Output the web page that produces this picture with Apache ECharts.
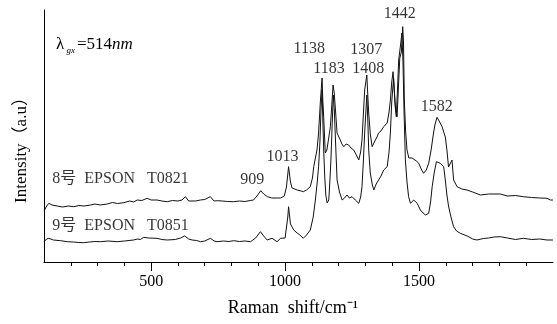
<!DOCTYPE html>
<html>
<head>
<meta charset="utf-8">
<script src="https://cdn.jsdelivr.net/npm/echarts@6/dist/echarts.min.js"></script>
<style>html,body{margin:0;padding:0;background:#fff}#c{width:557px;height:324px}</style>
</head>
<body>
<div id="c"></div>
<script>
// Sample 8 (upper trace)
const upperShift = [100,110,118,130,149,170,190,211,230,250,274,290,310,336,355,375,398,420,435,448,465,485,500,522,540,560,580,600,615,628,640,647,665,684,700,721,735,747,765,785,807,830,850,870,882,895,909,920,934,950,971,983,997,1005,1013,1020,1026,1045,1060,1068,1080,1094,1102,1107,1113,1119,1125,1132,1138,1141,1144,1150,1156,1163,1169,1175,1179,1183,1188,1194,1206,1212,1219,1228,1237,1246,1256,1266,1275,1282,1287,1297,1305,1309,1312,1318,1325,1337,1343,1349,1358,1368,1375,1381,1388,1393,1398,1403,1408,1412,1418,1423,1428,1434,1439,1442,1445,1450,1455,1462,1468,1474,1480,1490,1499,1508,1517,1527,1536,1545,1554,1560,1567,1575,1586,1598,1604,1610,1616,1623,1629,1642,1660,1679,1700,1729,1760,1803,1830,1860,1889,1920,1950,1978,1990,2000];
const upperInt = [51,56,58.7,57,56,55,56,55.3,56.5,56,57,58,57,58,59.5,58.5,59.3,61,60,62,61.5,63.7,62,62,61,60.3,61.5,61,62,65.3,61,62,61,62,62.5,65.3,61,61.3,61,60.5,60.3,61,60.5,61.5,62,66,71.3,68,65.3,64,64,64,66,75,95.3,80,74,72,71,70.3,72,75.3,84,95.3,104,112,129,162,184,160,145.3,109,112,110.3,135.3,160,177,170,152,129,122,118,115.3,118,117,114,112,107,102,110,122,172,187,165,149,128,115.3,122,125,129,131,135.3,134,139,150,162,180,190.3,170,152,145.3,175,203.7,210,235.3,220,162,130,112,104,102,104,103.7,101,98.7,93,88.7,92,98.7,112,129,138,144.7,141,135.3,125,112,95,96,102,82,75.3,73,72,70,67,68,68,66,66.5,65.3,64.5,64,63.7,62,62];
// Sample 9 (lower trace)
const lowerShift = [100,110,118,135,162,187,210,230,247,270,290,311,340,373,400,434,450,460,472,490,522,540,560,590,610,625,640,653,670,684,700,721,735,746,770,790,808,830,850,871,890,908,920,933,951,970,983,1000,1005,1010,1013,1020,1032,1045,1055,1068,1080,1094,1105,1113,1120,1125,1130,1134,1138,1141,1144,1148,1152,1157,1163,1167,1171,1176,1180,1184,1188,1194,1203,1213,1222,1231,1240,1250,1262,1275,1282,1287,1292,1297,1305,1309,1312,1318,1325,1331,1340,1349,1358,1368,1375,1381,1388,1393,1398,1405,1410,1415,1420,1424,1430,1436,1440,1444,1449,1455,1461,1468,1474,1480,1486,1493,1505,1515,1524,1536,1543,1549,1557,1565,1572,1579,1586,1592,1598,1604,1610,1616,1622,1629,1640,1654,1680,1700,1716,1740,1760,1780,1803,1830,1860,1890,1920,1950,1978,2000];
const lowerInt = [20.3,23,23.7,22,21.3,20.3,20,19.5,19.3,20,20.5,20.3,21,20.3,21,22,23,22.5,24.7,24,23.7,22.5,22,22.5,24,26,23,22,21.5,20.3,21,23.7,21,20.3,21,20.5,21.3,20.5,21,20.3,24,30.3,26,22,23.7,20.3,23.7,24,26,45,55.3,38,32,29,27,23.7,27,32,45,62,80,95.3,120,152,172,140,112,85,67,59,62,80,102,140,167,150,122,82,70,62,64,67,64,65.3,62,58.7,65,75.3,100,129,167,140,112,89,78,72,78,82,86,92,90,95.3,110,129,160,184,160,145.3,175,202,215,229,200,150,102,80,65.3,58.7,60,62,61,58.7,52,49,47,48.7,60,75.3,90,100.3,99,98.7,97,95.3,82,67,56,48.7,42,35.3,31,28.7,26,23,22,23.5,24,25,25.3,24,22.5,23.7,22.5,23,22,22];
// Peak annotations
const peakNames = ['1442','1138','1183','1307','1408','1582','1013','909'];
const peakShift = [1428,1090,1164,1303,1310,1566,990,877];
const peakInt = [248,213.7,193.7,212,193.7,155.3,105,82];
// Sample names
const sampleNames = ['8号\u2002EPSON\u2002 T0821','9号\u2002EPSON\u2002 T0851'];
const sampleShift = [131,131];
const sampleInt = [83.7,36];
const majorTicks = [500,1000,1500];

const FONT = '"Liberation Serif","Noto Sans CJK SC",serif';
const pair = (xs, ys) => xs.map((x, i) => [x, ys[i]]);

const chart = echarts.init(document.getElementById('c'));
chart.setOption({
  animation: false,
  backgroundColor: '#fff',
  grid: { left: 44, top: 10, right: 4, bottom: 62, containLabel: false, outerBoundsMode: 'none' },
  xAxis: {
    type: 'value', min: 100, max: 2000, interval: 100, position: 'bottom',
    axisLine: { show: true, lineStyle: { color: '#000', width: 1 } },
    axisTick: { show: true, length: 4, lineStyle: { color: '#000' } },
    axisLabel: {
      show: true, color: '#000', fontFamily: FONT, fontSize: 16, margin: 12,
      showMinLabel: false, showMaxLabel: false, hideOverlap: false,
      formatter: v => (v % 500 === 0 ? String(v) : '')
    },
    splitLine: { show: false }
  },
  yAxis: {
    type: 'value', min: 0, max: 252,
    axisLine: { show: true, lineStyle: { color: '#000', width: 1 } },
    axisTick: { show: false }, axisLabel: { show: false }, splitLine: { show: false }
  },
  graphic: [{
    type: 'text', x: 22, y: 146, rotation: Math.PI / 2,
    style: { text: 'Intensity（a.u）', fill: '#000', font: '17px ' + FONT, textAlign: 'center', textVerticalAlign: 'middle' }
  }, {
    type: 'text', x: 293, y: 308,
    style: { text: 'Raman  shift/cm\u207B\u00B9', fill: '#000', font: '18px ' + FONT, textAlign: 'center', textVerticalAlign: 'middle' }
  }, {
    type: 'text', x: 56, y: 45,
    style: {
      text: '{a|λ}{s| gx}{a|=514}{i|nm}',
      textVerticalAlign: 'middle',
      rich: {
        a: { fontFamily: FONT, fontSize: 17, fill: '#000' },
        s: { fontFamily: FONT, fontSize: 9, fill: '#000', fontStyle: 'italic', padding: [12, 2, 0, 0] },
        i: { fontFamily: FONT, fontSize: 17, fill: '#000', fontStyle: 'italic' }
      }
    }
  }],
  series: [{
    type: 'line', name: '8', data: pair(upperShift, upperInt), symbol: 'none', silent: true,
    lineStyle: { color: '#111', width: 1 }
  }, {
    type: 'line', name: '9', data: pair(lowerShift, lowerInt), symbol: 'none', silent: true,
    lineStyle: { color: '#111', width: 1 }
  }, {
    type: 'scatter', silent: true, symbolSize: 0,
    data: peakNames.map((n, i) => ({ value: [peakShift[i], peakInt[i]], name: n })),
    label: { show: true, position: 'inside', formatter: '{b}', color: '#000', fontFamily: FONT, fontSize: 16 }
  }, {
    type: 'scatter', silent: true, symbolSize: 0,
    data: sampleNames.map((n, i) => ({ value: [sampleShift[i], sampleInt[i]], name: n })),
    label: { show: true, position: 'right', distance: 0, formatter: '{b}', color: '#000', fontFamily: FONT, fontSize: 16 }
  }, {
    type: 'custom', silent: true, clip: false,
    data: majorTicks.map(v => [v, 0]),
    renderItem: (params, api) => {
      const p = api.coord([api.value(0), 0]);
      const x = Math.round(p[0]) + 0.5;
      return { type: 'line', shape: { x1: x, y1: p[1], x2: x, y2: p[1] + 9 }, style: { stroke: '#000', lineWidth: 1 } };
    }
  }]
});
</script>
</body>
</html>
